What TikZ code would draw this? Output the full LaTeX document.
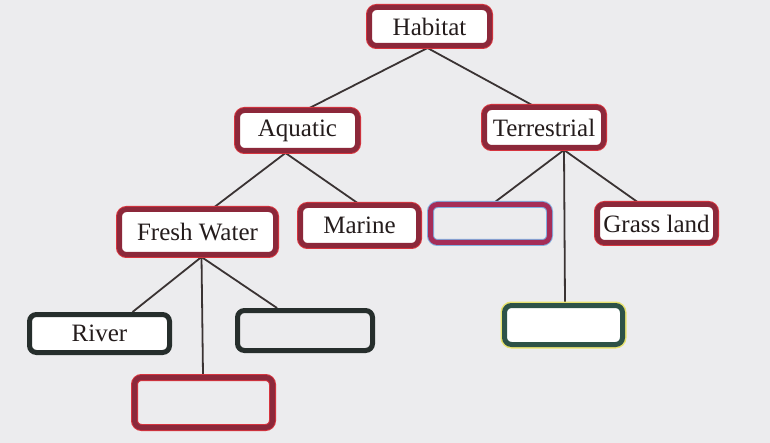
\documentclass[tikz,border=0pt]{standalone}
\usepackage{fontspec}
\setmainfont{Liberation Serif}
\usepackage{tikz}
\usetikzlibrary{positioning,backgrounds}
\definecolor{paper}{RGB}{236,236,238}
\definecolor{maroon}{RGB}{140,40,58}
\definecolor{glow}{RGB}{214,52,62}
\definecolor{darkrim}{RGB}{38,46,44}
\definecolor{greenrim}{RGB}{45,82,71}
\definecolor{yellowglow}{RGB}{232,226,110}
\definecolor{pinkrim}{RGB}{165,45,88}
\definecolor{blueglow}{RGB}{130,175,225}
\definecolor{ink}{RGB}{36,28,28}
\tikzset{%
  box/.style={rectangle, rounded corners=7pt, line width=5pt, inner sep=0pt,
    text=ink, font=\fontsize{25}{27}\selectfont},
  redbox/.style={box, draw=maroon, preaction={draw=glow, line width=7pt}},% red rim
  darkbox/.style={box, draw=darkrim},% black rim
  greenbox/.style={box, draw=greenrim, preaction={draw=yellowglow, line width=8pt}},% green rim
  pinkbox/.style={box, draw=pinkrim, preaction={draw=blueglow, line width=7pt}},% pink rim
  branch/.style={draw=ink!90, line width=1.8pt}% tree lines
}

\begin{document}
\begin{tikzpicture}[x=1pt, y=-1pt]
\useasboundingbox (0,0) rectangle (770,443);

\node[redbox, fill=white, minimum width=120pt, minimum height=38pt] (habitat) at (429.5, 26.5) {Habitat};
\node[redbox, fill=white, minimum width=120pt, minimum height=40pt] (aquatic) at (297.5, 130.5) {Aquatic};
\node[redbox, fill=white, minimum width=119pt, minimum height=40pt] (terrestrial) at (544, 127.5) {Terrestrial};
\node[redbox, fill=white, minimum width=156pt, minimum height=45pt] (freshwater) at (197.5, 232) {Fresh Water};
\node[redbox, fill=white, minimum width=118pt, minimum height=40pt] (marine) at (359.5, 225.5) {Marine};
\node[pinkbox, minimum width=119pt, minimum height=38pt] (blankland) at (490, 223.5) {};
\node[redbox, fill=white, minimum width=118pt, minimum height=38pt] (grassland) at (656.5, 223.5) {Grass land};
\node[darkbox, fill=white, minimum width=140pt, minimum height=38pt] (river) at (99.5, 333.5) {River};
\node[darkbox, minimum width=135pt, minimum height=40pt] (blankwater) at (305, 330.5) {};
\node[redbox, minimum width=138pt, minimum height=50pt] (blankbottom) at (203.5, 402.5) {};
\node[greenbox, fill=white, minimum width=118pt, minimum height=39pt] (blankground) at (563.5, 325) {};

\begin{scope}[on background layer]
\fill[paper] (0,0) rectangle (770,443);
\draw[branch] ([xshift=-2pt]habitat.south) -- ([xshift=12pt]aquatic.north);
\draw[branch] ([xshift=-2pt]habitat.south) -- ([xshift=-12pt]terrestrial.north);
\draw[branch] ([xshift=-12pt]aquatic.south) -- ([xshift=17pt]freshwater.north);
\draw[branch] ([xshift=-12pt]aquatic.south) -- ([xshift=-2pt]marine.north);
\draw[branch] ([xshift=20pt]terrestrial.south) -- ([xshift=5pt]blankland.north);
\draw[branch] ([xshift=20pt]terrestrial.south) -- ([xshift=-19pt]grassland.north);
\draw[branch] ([xshift=20pt]terrestrial.south) -- ([xshift=1.5pt]blankground.north);
\draw[branch] ([xshift=4pt]freshwater.south) -- ([xshift=33pt]river.north);
\draw[branch] ([xshift=4pt]freshwater.south) -- ([xshift=-28pt]blankwater.north);
\draw[branch] ([xshift=4pt]freshwater.south) -- ([xshift=-0.5pt]blankbottom.north);
\end{scope}

\end{tikzpicture}
\end{document}
